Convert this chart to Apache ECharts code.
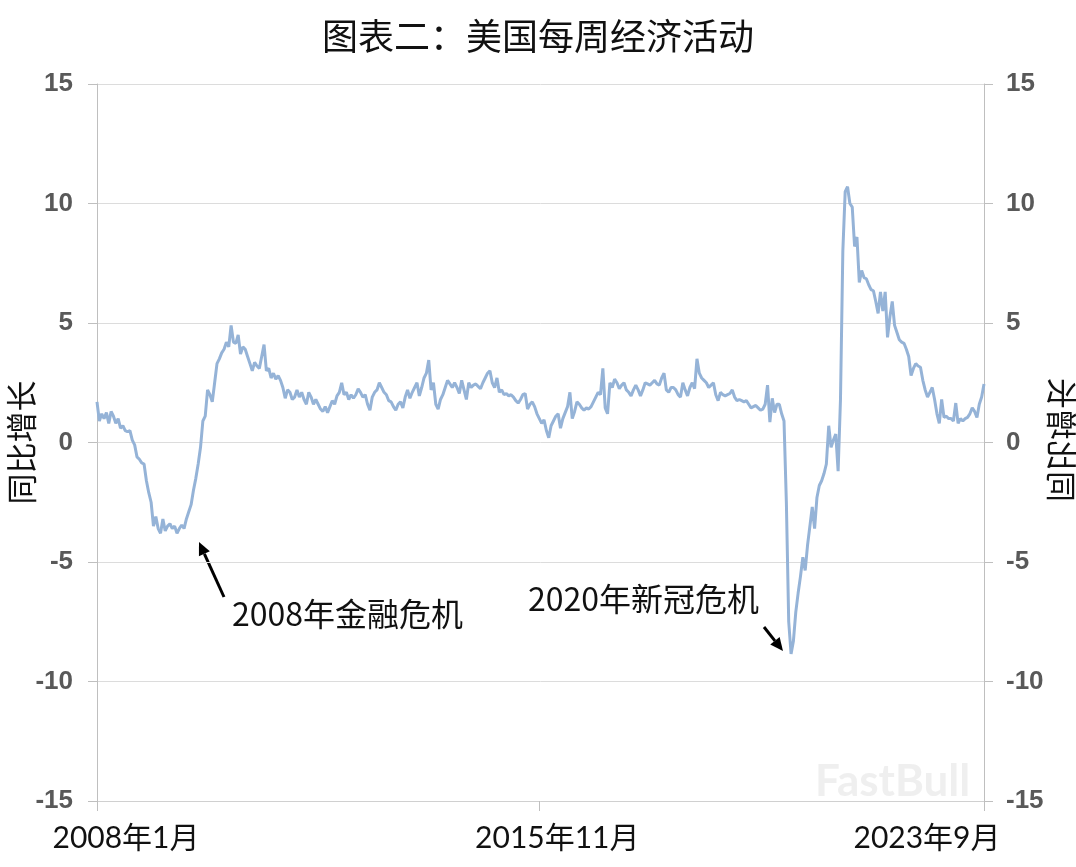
<!DOCTYPE html>
<html>
<head>
<meta charset="utf-8">
<script src="https://cdn.jsdelivr.net/npm/echarts@6/dist/echarts.min.js"></script>
<style>
  html, body { margin: 0; padding: 0; background: #fff; }
  #chart { width: 1076px; height: 867px; }
</style>
</head>
<body>
<div id="chart"></div>
<script>
// semi-monthly readings, 2008-01 .. 2023-09 (two per month)
const values = [
  1.7, 0.9, 1.2, 1.0, 1.25, 0.8, 1.3, 1.1, 0.8, 1.0,
  0.6, 0.7, 0.5, 0.45, 0.5, 0.1, -0.1, -0.6, -0.7, -0.85,
  -0.9, -1.6, -2.1, -2.5, -3.5, -3.1, -3.6, -3.8, -3.2, -3.7,
  -3.5, -3.4, -3.6, -3.5, -3.8, -3.6, -3.45, -3.6, -3.2, -2.9,
  -2.6, -2.0, -1.5, -0.9, -0.2, 0.9, 1.1, 2.2, 2.0, 1.7,
  2.5, 3.3, 3.5, 3.75, 3.9, 4.2, 4.0, 4.9, 4.2, 4.15,
  4.5, 3.7, 4.0, 3.9, 3.6, 3.3, 3.0, 3.35, 3.2, 3.1,
  3.6, 4.1, 3.0, 3.1, 2.7, 2.9, 2.65, 2.8, 2.6, 2.3,
  1.85, 2.2, 2.1, 1.8, 1.9, 2.2, 1.9, 2.1, 1.8, 1.6,
  2.1, 1.9, 1.6, 1.8, 1.6, 1.4, 1.3, 1.5, 1.25, 1.5,
  1.75, 1.6, 1.95, 2.1, 2.5, 2.0, 2.1, 1.8, 2.0, 1.85,
  2.0, 2.25, 2.1, 1.9, 2.0, 1.6, 1.35, 1.9, 2.1, 2.2,
  2.5, 2.3, 2.1, 2.0, 1.75, 1.7, 1.5, 1.35, 1.6, 1.7,
  1.45, 1.9, 2.2, 1.85, 2.1, 2.3, 2.5, 1.95, 2.3, 2.7,
  2.9, 3.45, 2.2, 2.5, 1.6, 1.4, 1.8, 2.0, 2.3, 2.6,
  2.45, 2.3, 2.5, 2.3, 2.05, 2.6, 2.2, 1.8, 2.5, 2.3,
  2.4, 2.45, 2.35, 2.25, 2.5, 2.7, 2.9, 3.0, 2.5, 2.3,
  2.7, 2.1, 2.2, 2.0, 2.05, 1.95, 2.0, 1.9, 1.75, 1.65,
  1.8, 2.0, 2.05, 1.4, 1.6, 1.7, 1.5, 1.2, 1.0, 0.8,
  0.95, 0.5, 0.2, 0.7, 0.9, 1.1, 1.2, 0.6, 1.0, 1.25,
  1.5, 2.1, 1.0, 1.3, 1.7, 1.6, 1.45, 1.35, 1.45, 1.4,
  1.5, 1.7, 1.9, 2.1, 2.0, 3.1, 1.45, 1.2, 2.5, 2.3,
  2.65, 2.5, 2.25, 2.4, 2.5, 2.2, 2.1, 1.95, 2.2, 2.4,
  2.2, 1.95, 2.2, 2.5, 2.45, 2.4, 2.5, 2.6, 2.45, 2.4,
  2.7, 2.9, 2.2, 2.1, 2.3, 2.3, 2.2, 2.0, 1.9, 2.5,
  2.2, 1.95, 2.3, 2.5, 2.25, 3.5, 2.9, 2.7, 2.6, 2.5,
  2.3, 2.4, 2.5, 2.0, 1.75, 2.1, 2.0, 1.95, 2.0, 2.05,
  2.2, 1.9, 1.75, 1.8, 1.75, 1.7, 1.75, 1.6, 1.45, 1.5,
  1.55, 1.45, 1.35, 1.4, 1.6, 2.4, 0.85, 1.85, 1.25, 1.6,
  1.6, 1.2, 0.9, -2.5, -7.5, -8.85, -8.3, -7.1, -6.3, -5.6,
  -4.8, -5.35, -4.3, -3.5, -2.7, -3.6, -2.3, -1.8, -1.6, -1.3,
  -0.9, 0.7, -0.2, 0.1, 0.35, -1.2, 1.8, 8.0, 10.5, 10.7,
  10.0, 9.85, 8.2, 8.6, 6.7, 7.2, 6.9, 6.85, 6.6, 6.4,
  6.35, 5.9, 5.4, 6.3, 5.5, 6.3, 4.4, 5.25, 5.9, 4.9,
  4.6, 4.3, 4.2, 4.15, 3.9, 3.6, 2.8, 3.1, 3.3, 3.2,
  3.15, 2.6, 2.2, 1.9, 2.1, 2.3, 1.8, 1.2, 0.8, 1.8,
  1.05, 1.1, 1.0, 1.0, 0.9, 1.65, 0.8, 1.0, 0.9, 1.0,
  1.05, 1.2, 1.45, 1.3, 1.05, 1.6, 1.9, 2.45
];

const categories = [];
for (let y = 2008; y <= 2023; y++) {
  for (let m = 1; m <= 12; m++) {
    if (y === 2023 && m > 9) break;
    categories.push(y + '年' + m + '月上', y + '年' + m + '月下');
  }
}

const tickLabels = ['2008年1月', '2015年11月', '2023年9月'];
const tickIndex = [0, 188, categories.length - 1];
const yTicks = { min: -15, max: 15, interval: 5 };
const titleText = '图表二：美国每周经济活动';
const axisName = '同比增长';
const notes = ['2008年金融危机', '2020年新冠危机'];

const chart = echarts.init(document.getElementById('chart'));

const yLabel = {
  color: '#595959',
  fontSize: 26,
  fontWeight: 'bold',
  fontFamily: 'Liberation Sans Narrow, Liberation Sans, sans-serif'
};

function arrow(x1, y1, x2, y2) {
  const a = Math.atan2(y2 - y1, x2 - x1);
  const L = 13, W = 6;
  const bx = x2 - L * Math.cos(a), by = y2 - L * Math.sin(a);
  return [
    { type: 'line', shape: { x1: x1, y1: y1, x2: bx, y2: by }, style: { stroke: '#000', lineWidth: 3 } },
    {
      type: 'polygon',
      shape: { points: [[x2, y2], [bx + W * Math.sin(a), by - W * Math.cos(a)], [bx - W * Math.sin(a), by + W * Math.cos(a)]] },
      style: { fill: '#000' }
    }
  ];
}

const noteStyle = { fill: '#111', fontSize: 32, fontFamily: 'Noto Sans CJK SC' };
const xLab = { fontSize: 30, color: '#111', fontFamily: 'Lato, Noto Sans CJK SC' };
const nameStyle = { fontSize: 31, color: '#111', fontFamily: 'Noto Sans CJK SC' };

chart.setOption({
  backgroundColor: '#fff',
  animation: false,
  title: {
    text: titleText,
    left: 'center',
    top: 13,
    textStyle: { fontSize: 36, fontWeight: 'normal', color: '#111', fontFamily: 'Noto Sans CJK SC' }
  },
  grid: { left: 97, right: 92, top: 84, bottom: 66, containLabel: false, outerBoundsMode: 'none' },
  xAxis: {
    type: 'category',
    data: categories,
    boundaryGap: false,
    axisLine: { onZero: false, lineStyle: { color: '#d0d0d0', width: 1 } },
    axisTick: {
      interval: (i) => tickIndex.includes(i),
      length: 10,
      lineStyle: { color: '#bfbfbf' }
    },
    axisLabel: {
      interval: (i) => tickIndex.includes(i),
      margin: 22,
      hideOverlap: false,
      formatter: (v, i) => {
        const k = tickIndex.indexOf(i);
        return '{t' + k + '|' + tickLabels[k] + '}';
      },
      rich: {
        t0: Object.assign({ padding: [0, 0, 0, 58] }, xLab),
        t1: Object.assign({ padding: [0, 0, 0, 36] }, xLab),
        t2: Object.assign({ padding: [0, 114, 0, 0] }, xLab)
      }
    },
    splitLine: { show: false }
  },
  yAxis: [
    {
      type: 'value',
      min: yTicks.min, max: yTicks.max, interval: yTicks.interval,
      position: 'left',
      name: axisName,
      nameLocation: 'middle',
      nameRotate: 90,
      nameGap: 60,
      nameMoveOverlap: false,
      nameTextStyle: nameStyle,
      axisLine: { show: true, lineStyle: { color: '#bfbfbf' } },
      axisTick: { show: true, length: 9, lineStyle: { color: '#bfbfbf' } },
      axisLabel: Object.assign({ margin: 24 }, yLabel),
      splitLine: { lineStyle: { color: '#dcdcdc' } }
    },
    {
      type: 'value',
      min: yTicks.min, max: yTicks.max, interval: yTicks.interval,
      position: 'right',
      axisLine: { show: true, lineStyle: { color: '#bfbfbf' } },
      axisTick: { show: true, length: 9, lineStyle: { color: '#bfbfbf' } },
      axisLabel: Object.assign({ margin: 22 }, yLabel),
      splitLine: { show: false }
    }
  ],
  series: [
    {
      type: 'line',
      data: values,
      showSymbol: false,
      lineStyle: { color: '#95b3d7', width: 3 },
      z: 3
    }
  ],
  graphic: [
    // right-hand axis title, drawn as a mirror image of the left one
    {
      type: 'text', x: 1062, y: 440, rotation: -Math.PI / 2, scaleX: -1,
      style: { text: axisName, fill: nameStyle.color, fontSize: nameStyle.fontSize, fontFamily: nameStyle.fontFamily, align: 'center', verticalAlign: 'middle' }
    },
    { type: 'text', left: 232, top: 598, style: Object.assign({ text: notes[0] }, noteStyle) },
    { type: 'text', left: 528, top: 583, style: Object.assign({ text: notes[1] }, noteStyle) },
    ...arrow(224, 597, 199, 542),
    ...arrow(764, 627, 783, 651),
    {
      type: 'text', left: 815, top: 760,
      style: { text: 'FastBull', fill: 'rgba(235,235,235,0.8)', fontSize: 44, fontWeight: 'bold', fontFamily: 'Lato' }
    }
  ]
});
</script>
</body>
</html>
